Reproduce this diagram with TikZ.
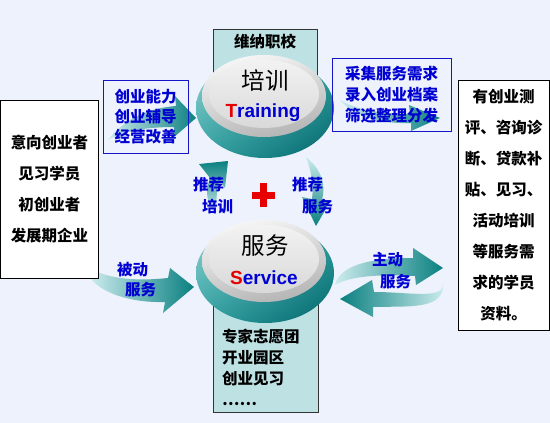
\documentclass[tikz,border=0pt]{standalone}
\usepackage{fontspec}
\setmainfont{Liberation Sans}
\newfontfamily\cjk{Noto Sans CJK SC}
\usetikzlibrary{positioning,calc,shadings}
\definecolor{bgblue}{RGB}{237,242,252}
\definecolor{panelteal}{RGB}{190,226,228}
\definecolor{tealdark}{RGB}{10,128,128}
\definecolor{tealmid}{RGB}{50,162,162}
\definecolor{teallight}{RGB}{205,236,238}
\definecolor{disclight}{RGB}{150,212,212}
\definecolor{discdeep}{RGB}{0,100,106}
\definecolor{txtblue}{RGB}{0,0,210}
\definecolor{boxblue}{RGB}{20,20,200}
\definecolor{plusred}{RGB}{230,0,0}
\tikzset{
  whitebox/.style={draw=black,fill=white,line width=0.8pt},
  bluebox/.style={draw=boxblue,line width=0.8pt},
  panelbox/.style={draw=black!80,fill=panelteal,line width=0.6pt},
  cnbold/.style={font=\cjk\bfseries\fontsize{15.5}{#1}\selectfont,inner sep=0pt},
  bluetxt/.style={cnbold=#1,text=txtblue,align=left},
  entxt/.style={font=\bfseries\fontsize{19}{19}\selectfont,inner sep=0pt}
}

\begin{document}
\begin{tikzpicture}[x=1pt,y=-1pt]
\useasboundingbox (0,0) rectangle (550,423);
\fill[bgblue] (0,0) rectangle (550,423);
% school panels behind the two discs
\draw[panelbox] (213,29) rectangle (317,110);
\draw[panelbox] (213,285) rectangle (318,412);
\node[cnbold=20] (school) at (265,42) {维纳职校};
\node[cnbold=21,align=left,anchor=north west] (offers) at (222,329)
  {专家志愿团\\开业园区\\创业见习\\……};
% fat arrows
\shade[left color=teallight,right color=tealdark]
  (108,140) .. controls (125,118) and (150,108) .. (176,106) -- (175,96)
  -- (196,118) -- (173,138) -- (174,127) .. controls (150,127) and (125,130) .. (108,140) -- cycle;
\shade[left color=teallight,right color=tealdark]
  (340,100) .. controls (360,112) and (385,113) .. (410,114) -- (409,105)
  -- (440,118) -- (411,131) -- (411,123) .. controls (385,124) and (355,118) .. (340,100) -- cycle;
\shade[top color=tealdark,bottom color=teallight]
  (215,214) .. controls (205,200) and (206,190) .. (210,178) -- (199,164)
  -- (228,161) -- (225,188) -- (219,180) .. controls (216,192) and (217,202) .. (215,214) -- cycle;
\shade[top color=teallight,bottom color=tealdark]
  (306,157) .. controls (322,170) and (326,185) .. (322,200) -- (331,200)
  -- (316,226) -- (302,197) -- (312,199) .. controls (314,185) and (311,170) .. (306,157) -- cycle;
\shade[left color=teallight,right color=tealdark]
  (89,268) .. controls (110,280) and (140,281) .. (168,278) -- (170,268)
  -- (194,287) -- (163,313) -- (165,302) .. controls (135,303) and (105,295) .. (92,280) -- cycle;
\shade[left color=teallight,right color=tealdark]
  (335,285) .. controls (340,265) and (370,258) .. (413,258) -- (413,248)
  -- (443,268) -- (416,285) -- (415,276) .. controls (380,274) and (350,276) .. (335,285) -- cycle;
\shade[left color=tealdark,right color=teallight]
  (443,283) .. controls (445,300) and (410,292) .. (374,292) -- (372,280)
  -- (340,299) -- (373,317) -- (373,307) .. controls (410,306) and (445,310) .. (443,283) -- cycle;
% the two buttons
\foreach \cy in {108,273} {
  \shade[upper left=disclight,upper right=tealmid,lower left=tealmid,lower right=discdeep]
    (265,\cy) ellipse[x radius=69pt,y radius=50pt];
  \shade[upper left=white,upper right=black!10,lower left=black!24,lower right=black!32]
    (264,\cy-12) ellipse[x radius=62pt,y radius=41pt];
  \shade[top color=white!95!black,bottom color=black!15]
    (264,\cy-14) ellipse[x radius=55pt,y radius=34pt];
}
\node[font=\cjk\fontsize{23.5}{23.5}\selectfont,inner sep=0pt] (pxcn) at (265,80) {培训};
\node[entxt] (pxen) at (263,113) {\textcolor{plusred}{T}\textcolor{txtblue}{raining}};
\node[font=\cjk\fontsize{23.5}{23.5}\selectfont,inner sep=0pt] (fwcn) at (265,246) {服务};
\node[entxt] (fwen) at (264,278) {\textcolor{plusred}{S}\textcolor{txtblue}{ervice}};
% red plus
\fill[plusred] (259.5,183) rectangle (266.5,207);
\fill[plusred] (252,191.5) rectangle (275,198.5);
% boxes
\node[whitebox,minimum width=98pt,minimum height=178pt,cnbold=31,align=center]
  (clients) at (49.5,189) {意向创业者\\见习学员\\初创业者\\发展期企业};
\node[whitebox,minimum width=91pt,minimum height=250pt,cnbold=31,align=center]
  (records) at (503.5,205) {有创业测\\评、咨询诊\\断、贷款补\\贴、见习、\\活动培训\\等服务需\\求的学员\\资料。};
\node[bluebox,minimum width=85pt,minimum height=73pt,bluetxt=20,align=center]
  (skills) at (145.5,116.5) {创业能力\\创业辅导\\经营改善};
\node[bluebox,minimum width=119pt,minimum height=73pt,bluetxt=21,align=left]
  (collect) at (391.5,94.5) {采集服务需求\\录入创业档案\\筛选整理分发};
% arrow labels
\node[bluetxt=22,anchor=north west] (recpx) at (193,177) {推荐\\\hspace*{9pt}培训};
\node[bluetxt=22,anchor=north west] (recfw) at (292,177) {推荐\\\hspace*{10pt}服务};
\node[bluetxt=20,anchor=north west] (passive) at (117,262) {被动\\\hspace*{8pt}服务};
\node[bluetxt=22,anchor=north west] (active) at (372,252) {主动\\\hspace*{8pt}服务};
\end{tikzpicture}
\end{document}
